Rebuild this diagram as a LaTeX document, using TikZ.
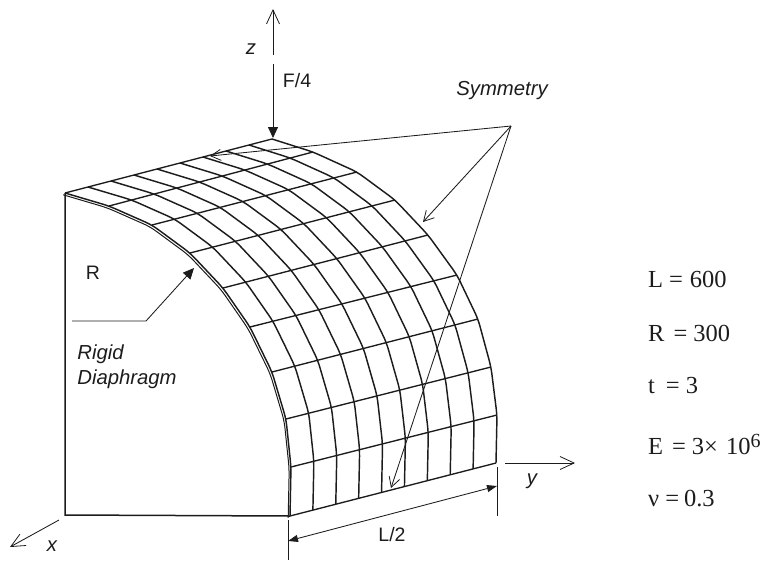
\documentclass[tikz,border=0pt]{standalone}
\usepackage{fontspec}
\setmainfont{Liberation Sans}
\newfontfamily\tmsfont{Liberation Serif}
\usetikzlibrary{arrows.meta,calc}
\definecolor{ink}{HTML}{1c1c1c}
\tikzset{
  meshline/.style={line width=1.45pt,draw=ink,line join=round,rounded corners=7pt},
  axialline/.style={line width=1.35pt,draw=ink},
  frameline/.style={line width=1.5pt,draw=ink},
  leader/.style={line width=0.85pt,draw=ink},
  openhead/.style={leader,-{Straight Barb[length=10pt,width=11pt,line width=0.8pt]}},
  axishead/.style={leader,-{Straight Barb[length=14pt,width=13pt,line width=0.8pt]}},
  solidhead/.style={leader,-{Triangle[length=11pt,width=10pt,fill=ink]}},
  lab/.style={font=\fontsize{19.5}{25}\selectfont,text=ink,inner sep=0pt},
  itlab/.style={font=\fontsize{20.3}{25}\selectfont\itshape,text=ink,inner sep=0pt},
  param/.style={font=\fontsize{24.5}{28}\tmsfont,text=ink,inner sep=0pt,anchor=base west},
}
\begin{document}
\begin{tikzpicture}[x=1pt,y=-1pt]
\useasboundingbox (0,0) rectangle (768,560);
% mesh nodes: front (diaphragm) arc and rear (symmetry) arc
\foreach \n/\p in {0/{65,193},1/{109,206},2/{152,225},3/{190,253},4/{223,288},5/{250,327},6/{272,372},7/{286,419},8/{291,467},9/{290,516}}
  {\coordinate (f\n) at (\p);}
\foreach \n/\p in {0/{272,139},1/{313,152},2/{357,172},3/{395,200},4/{428,235},5/{457,275},6/{478,319},7/{491,367},8/{497,415},9/{496,463}}
  {\coordinate (r\n) at (\p);}
\foreach \i in {0,...,9}{
  \foreach \j in {0,...,9}{
    \coordinate (p-\i-\j) at ($(f\i)!{\j/9}!(r\i)$);
  }
}
% axial lines
\foreach \i in {0,...,9}{ \draw[axialline] (f\i) -- (r\i); }
% circumferential lines
\foreach \j in {0,...,9}{
  \draw[meshline] (p-0-\j) foreach \i in {1,...,9} { -- (p-\i-\j) };
}
% double edge of the diaphragm
\draw[meshline,line width=1pt,transform canvas={shift={(-1.8pt,-1.8pt)}}] (p-0-0) foreach \i in {1,...,9} { -- (p-\i-0) };
% frame
\coordinate (c0) at (65,515);
\draw[frameline] (f0) -- (c0) -- (f9);
% axes
\coordinate (z0) at (273,55); \coordinate (z1) at (273,9);
\draw[axishead] (z0) -- (z1);
\coordinate (x0) at (59,520); \coordinate (x1) at (10,547);
\draw[axishead] (x0) -- (x1);
\coordinate (y0) at (505,463); \coordinate (y1) at (575,463);
\draw[axishead] (y0) -- (y1);
% load
\coordinate (F0) at (273,64); \coordinate (F1) at (273,138);
\draw[solidhead] (F0) -- (F1);
% symmetry leaders
\coordinate (apex) at (511,126);
\coordinate (s1) at (210,156); \coordinate (s2) at (423,222); \coordinate (s3) at (391,488);
\draw[openhead] (apex) -- (s1);
\draw[openhead] (apex) -- (s2);
\draw[openhead] (apex) -- (s3);
% diaphragm leader
\coordinate (d0) at (72,321); \coordinate (d1) at (146,321); \coordinate (d2) at (194,268);
\draw[solidhead] (d0) -- (d1) -- (d2);
% dimension
\coordinate (e0) at (288,520); \coordinate (e1) at (288,560);
\coordinate (e2) at (497,467); \coordinate (e3) at (497,516);
\draw[leader] (e0) -- (e1);
\draw[leader] (e2) -- (e3);
\coordinate (l0) at (288,541); \coordinate (l1) at (497,486);
\draw[leader,{Triangle[length=10pt,width=7pt,fill=ink]}-{Triangle[length=10pt,width=7pt,fill=ink]}] (l0) -- (l1);
% labels
\node[itlab] (zlab) at (251,49) {z};
\node[lab] (Flab) at (297,81) {F/4};
\node[itlab] (symlab) at (502,91) {Symmetry};
\node[lab] (Rlab) at (93,273) {R};
\node[itlab,align=left] (riglab) at (127,367) {Rigid\\Diaphragm};
\node[itlab] (ylab) at (532,481) {y};
\node[itlab] (xlab) at (52,546) {x};
\node[lab] (Llab) at (392,535) {L/2};
% parameters
\node[param] (pL) at (648,287) {L\hspace{6pt}=\hspace{7pt}600};
\node[param] (pR) at (648,341) {R\hspace{9pt}=\hspace{6pt}300};
\node[param] (pt) at (648,393) {t\hspace{11pt}=\hspace{6pt}3};
\node[param] (pE) at (648,454) {E\hspace{9pt}=\hspace{6pt}3×\hspace{8pt}10\raisebox{7pt}{\fontsize{20}{22}\selectfont 6}};
\node[param] (pn) at (648,506) {ν\hspace{6pt}=\hspace{5pt}0.3};
\end{tikzpicture}
\end{document}
